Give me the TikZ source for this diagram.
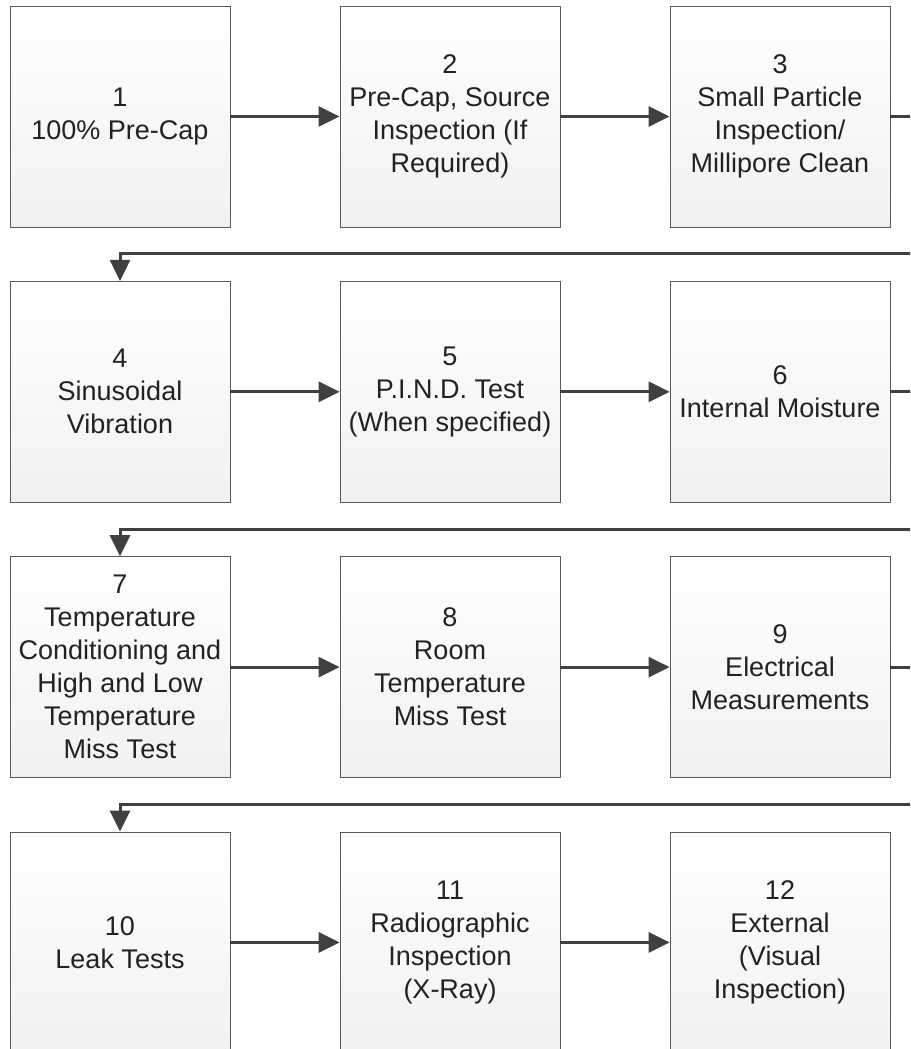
\documentclass[tikz,border=0pt]{standalone}
\usepackage{fontspec}
\setmainfont{Liberation Sans}
\usetikzlibrary{positioning,arrows.meta}
\definecolor{boxline}{HTML}{5A5A5A}
\definecolor{boxgray}{HTML}{F1F1F1}
\definecolor{flowgray}{HTML}{404040}
\definecolor{textgray}{HTML}{222222}
\begin{document}
\begin{tikzpicture}[x=1pt,y=1pt]

			\tikzstyle{stage}=[draw=boxline,line width=0.8pt,
				top color=white,bottom color=boxgray,
				minimum width=220pt,minimum height=221pt,inner sep=0pt,
				node distance=330pt,
				align=center,text=textgray,
				font=\fontsize{27}{33}\selectfont]
			\tikzstyle{flow}=[draw=flowgray,line width=3pt,
				-{Triangle[length=21pt,width=20pt]}]

			\useasboundingbox (0,0) rectangle (910,-1049);
			\clip (0,0) rectangle (910,-1049);

			\node[stage] at (120,-116.5)	(11)	{1\\100\% Pre-Cap};
			\node[stage,right of=11]	(12)	{2\\Pre-Cap, Source\\Inspection (If\\Required)};
			\node[stage,right of=12]	(13)	{3\\Small Particle\\Inspection/\\Millipore Clean};
			\node[stage,node distance=275.3pt,below of=11]	(21)	{4\\Sinusoidal\\Vibration};
			\node[stage,right of=21]	(22)	{5\\P.I.N.D. Test\\(When specified)};
			\node[stage,right of=22]	(23)	{6\\Internal Moisture};
			\node[stage,node distance=275.3pt,below of=21]	(31)	{7\\Temperature\\Conditioning and\\High and Low\\Temperature\\Miss Test};
			\node[stage,right of=31]	(32)	{8\\Room\\Temperature\\Miss Test};
			\node[stage,right of=32]	(33)	{9\\Electrical\\Measurements};
			\node[stage,node distance=275.3pt,below of=31]	(41)	{10\\Leak Tests};
			\node[stage,right of=41]	(42)	{11\\Radiographic\\Inspection\\(X-Ray)};
			\node[stage,right of=42]	(43)	{12\\External\\(Visual\\Inspection)};

			% flow along each row
			\draw[flow] (11) -- (12);
			\draw[flow] (12) -- (13);
			\draw[flow] (21) -- (22);
			\draw[flow] (22) -- (23);
			\draw[flow] (31) -- (32);
			\draw[flow] (32) -- (33);
			\draw[flow] (41) -- (42);
			\draw[flow] (42) -- (43);

			% back to the start of the next row
			\draw[flow] (13.east) -- ++(40,0) |- ([yshift=27pt]21.north) -- (21.north);
			\draw[flow] (23.east) -- ++(40,0) |- ([yshift=27pt]31.north) -- (31.north);
			\draw[flow] (33.east) -- ++(40,0) |- ([yshift=27pt]41.north) -- (41.north);

\end{tikzpicture}
\end{document}
